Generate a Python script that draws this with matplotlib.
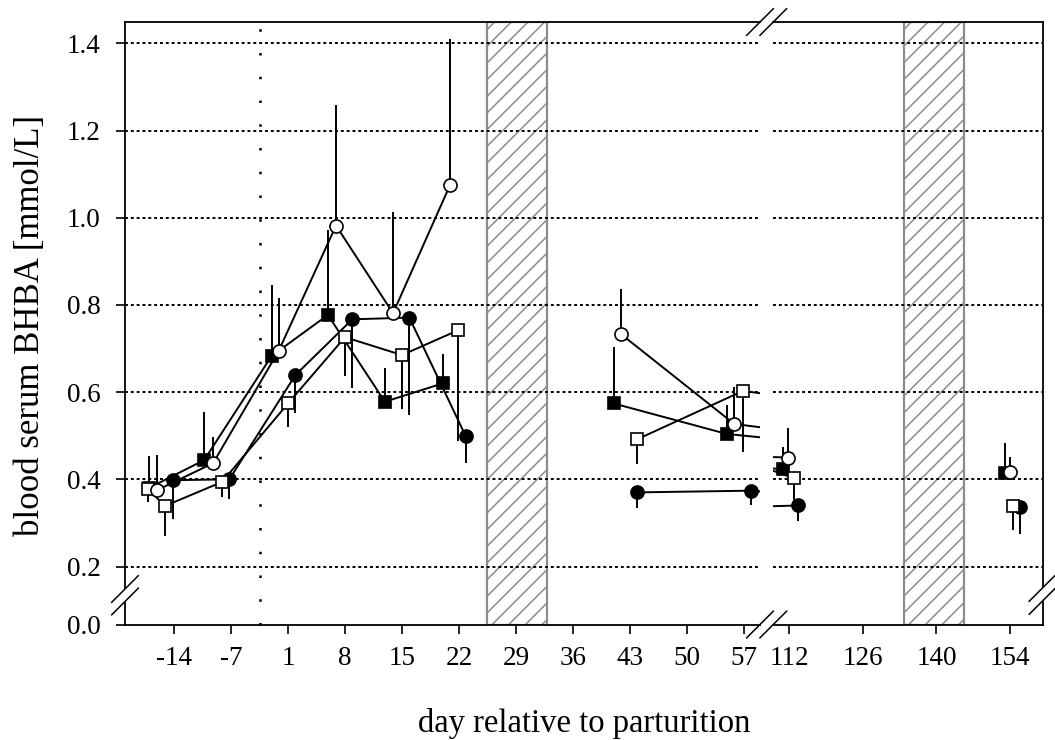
import numpy as np
import matplotlib
matplotlib.use('Agg')
import matplotlib.pyplot as plt
from matplotlib.lines import Line2D
from matplotlib.patches import Polygon

plt.rcParams['font.family'] = ['Liberation Serif', 'DejaVu Serif']
plt.rcParams['font.size'] = 19.5
plt.rcParams['hatch.linewidth'] = 1.1

nan = np.nan

# tick days on both sides of the x-axis break
left_tick_days = [-14, -7, 1, 8, 15, 22, 29, 36, 43, 50, 57]
right_tick_days = [112, 126, 140, 154]
y_tick_values = [0.2, 0.4, 0.6, 0.8, 1.0, 1.2, 1.4]

# grazing / dry periods (hatched) and parturition marker
band_days = [(25.5, 32.8), (133.8, 145.2)]
partus_day = -2.9

# hidden point inside the axis break, only its line stubs show
bridge_day = 84

# filled squares
fs_day = [-17.1, -10.3, -1.3, 5.9, 12.9, 20.0, nan, 41.0, 54.9, bridge_day, 110.9, nan, 153.0]
fs_val = [0.380, 0.444, 0.683, 0.777, 0.578, 0.620, nan, 0.574, 0.504, 0.450, 0.423, nan, 0.415]
fs_err = [0.074, 0.111, 0.163, 0.195, 0.077, 0.067, nan, 0.130, 0.066, nan, 0.052, nan, 0.069]

# open circles
oc_day = [-16.1, -9.2, -0.3, 6.9, 13.9, 20.9, nan, 41.9, 55.8, bridge_day, 111.9, nan, 154.0]
oc_val = [0.375, 0.437, 0.695, 0.982, 0.781, 1.075, nan, 0.733, 0.527, 0.460, 0.450, nan, 0.417]
oc_err = [0.081, 0.061, 0.120, 0.277, 0.233, 0.336, nan, 0.103, 0.085, nan, 0.067, nan, 0.035]

# open squares
os_day = [-17.2, -15.1, -8.1, 1.0, 8.0, 15.0, 21.9, nan, 43.9, 56.9, bridge_day, 113.0, nan, 154.6]
os_val = [0.377, 0.339, 0.394, 0.574, 0.726, 0.685, 0.742, nan, 0.492, 0.603, 0.530, 0.402, nan, 0.339]
os_err = [0.030, 0.069, 0.035, 0.053, 0.089, 0.124, 0.253, nan, 0.057, 0.140, nan, 0.050, nan, 0.055]

# filled circles
fc_day = [-14.1, -7.2, 1.9, 8.9, 15.9, 22.8, nan, 43.8, 57.9, bridge_day, 113.8, nan, 155.9]
fc_val = [0.398, 0.400, 0.639, 0.767, 0.771, 0.500, nan, 0.370, 0.374, 0.330, 0.340, nan, 0.336]
fc_err = [0.088, 0.045, 0.088, 0.158, 0.224, 0.063, nan, 0.035, 0.034, nan, 0.035, nan, 0.061]

series = [
    (fs_day, fs_val, fs_err, 's', 'black', 'up'),
    (fc_day, fc_val, fc_err, 'o', 'black', 'down'),
    (os_day, os_val, os_err, 's', 'white', 'down'),
    (oc_day, oc_val, oc_err, 'o', 'white', 'up'),
]


def left_pos(d):
    # left part: one slot per tick label (-7 -> 1 spans 8 days)
    d = np.asarray(d, float)
    p = np.interp(d, left_tick_days, np.arange(len(left_tick_days)))
    p = np.where(d < left_tick_days[0], (d - left_tick_days[0]) / 7, p)
    p = np.where(d > left_tick_days[-1], len(left_tick_days) - 1 + (d - left_tick_days[-1]) / 7, p)
    return p


W, H = 1055, 740
fig = plt.figure(figsize=(W / 100, H / 100), dpi=100)


def px_rect(x0, x1, y0, y1):
    return [x0 / W, 1 - y1 / H, (x1 - x0) / W, (y1 - y0) / H]


ax1 = fig.add_axes(px_rect(125, 760, 22, 624.5))
ax2 = fig.add_axes(px_rect(773.3, 1042.5, 22, 624.5))

y_bottom = 0.067
y_top = 1.449

for ax, conv in [(ax1, left_pos), (ax2, lambda d: np.asarray(d, float))]:
    for a, b in band_days:
        xa, xb = conv([a, b])
        ax.axvspan(xa, xb, facecolor='white', edgecolor='#8c8c8c', hatch='//',
                   linewidth=1.6, zorder=1)
    for yv in y_tick_values:
        ax.axhline(yv, color='black', lw=1.4, ls=(0, (1.5, 1.5)), zorder=2)
    for day, val, err, mk, face, side in series:
        x = conv(day)
        val = np.array(val)
        err = np.array(err)
        zeros = np.zeros_like(err)
        yerr = [zeros, err] if side == 'up' else [err, zeros]
        ok = ~np.isnan(err)
        ax.errorbar(x[ok], val[ok], yerr=[yerr[0][ok], yerr[1][ok]], fmt='none',
                    ecolor='black', elinewidth=1.4, capsize=0, zorder=3)
        visible = [not (np.isnan(v) or d == bridge_day) for d, v in zip(day, val)]
        ax.plot(x, val, color='black', lw=1.4, marker=mk,
                markersize=9.4 if mk == 'o' else 8.8, markerfacecolor=face,
                markeredgecolor='black', markeredgewidth=1.2,
                markevery=visible, zorder=4)
    ax.set_ylim(y_bottom, y_top)
    ax.tick_params(direction='out', length=6.5, width=1.2, labelsize=19.5)
    ax.tick_params(axis='x', pad=9)
    ax.tick_params(axis='y', pad=11)
    for s in ax.spines.values():
        s.set_linewidth(1.3)

ax1.axvline(left_pos(partus_day), color='black', lw=1.8, ls=(0, (1, 8.5)), zorder=2)

ax1.set_xlim(-0.8596, 10.281)
ax1.set_xticks(left_pos(left_tick_days))
ax1.set_xticklabels([str(d) for d in left_tick_days])
ax1.set_yticks([y_bottom] + y_tick_values)
ax1.set_yticklabels(['0.0'] + ['%.1f' % v for v in y_tick_values])
ax1.spines['right'].set_visible(False)

ax2.set_xlim(109.02, 160.16)
ax2.set_xticks(right_tick_days)
ax2.set_xticklabels([str(d) for d in right_tick_days])
ax2.set_yticks([])
ax2.spines['left'].set_visible(False)

fig.text((125 + 1042.5) / 2 / W, 1 - 732 / H, 'day relative to parturition',
         ha='center', va='baseline', fontsize=23.5)
fig.text(31 / W, 1 - 325 / H, 'blood serum BHBA [mmol/L]', rotation=90,
         ha='center', va='center', fontsize=25)


# axis break marks, in figure pixels
def slash(cx, cy, h=13.3):
    fig.add_artist(Line2D([(cx - h) / W, (cx + h) / W], [1 - (cy + h) / H, 1 - (cy - h) / H],
                          color='black', lw=1.1, zorder=6))


def y_break(cx, cy1, cy2, h=13.3):
    pts = [((cx - h) / W, 1 - (cy1 + h) / H), ((cx + h) / W, 1 - (cy1 - h) / H),
           ((cx + h) / W, 1 - (cy2 - h) / H), ((cx - h) / W, 1 - (cy2 + h) / H)]
    fig.add_artist(Polygon(pts, closed=True, facecolor='white', edgecolor='none', zorder=5))
    slash(cx, cy1, h)
    slash(cx, cy2, h)


for yy in (22, 624.5):
    slash(760, yy)
    slash(773.3, yy)
y_break(125, 589, 601.5)
y_break(1042.5, 588, 601)

fig.savefig('out.png', dpi=100)
